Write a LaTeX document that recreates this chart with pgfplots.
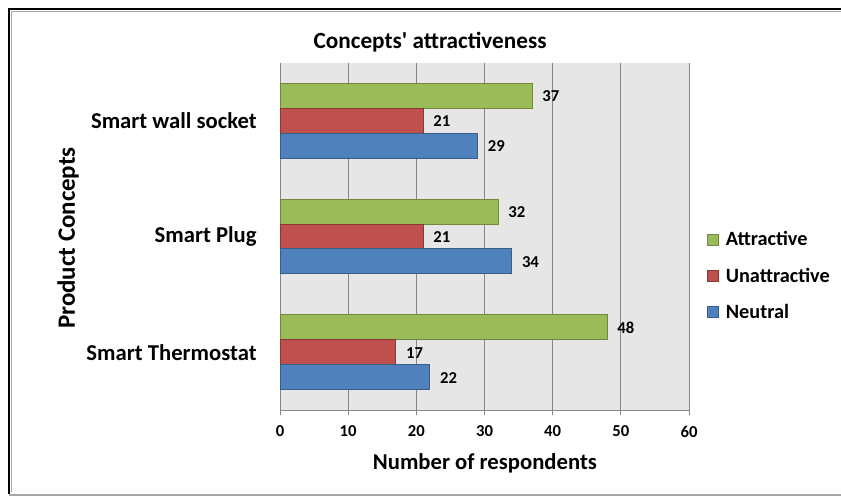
\documentclass[border=0pt]{standalone}
\usepackage{pgfplots}
\pgfplotsset{compat=1.18}
\usepackage{fontspec}
\setmainfont{Carlito}

\definecolor{attrfill}{HTML}{9BBB59}
\definecolor{attredge}{HTML}{71893F}
\definecolor{unatfill}{HTML}{C0504D}
\definecolor{unatedge}{HTML}{8C3836}
\definecolor{neutfill}{HTML}{4F81BD}
\definecolor{neutedge}{HTML}{385D8A}
\definecolor{plotbg}{HTML}{E6E6E6}
\definecolor{gridc}{HTML}{868686}

\begin{document}
\begin{tikzpicture}
% 1 px of the reference = 0.75pt
\begin{scope}[x=0.75pt,y=-0.75pt]
\useasboundingbox (0,0) rectangle (841,496);
% outer chart frame (right side is cut off in the original)
\draw[black, line width=1.5pt] (8.5,494) -- (8.5,8.5) -- (841,8.5);
\draw[gray!70, line width=0.75pt] (11,492) -- (11,11) -- (841,11);
\draw[gray!70, line width=1.2pt] (8.5,495) -- (841,495);
\end{scope}

\begin{axis}[
    at={(210pt,-307.5pt)}, anchor=south west,
    scale only axis,
    width=306.75pt, height=260.25pt,
    xbar,
    bar width=0.216,
    xmin=0, xmax=60,
    ymin=-0.5, ymax=2.5,
    xtick={0,10,...,60},
    ytick={0,1,2},
    yticklabels={Smart Thermostat, Smart Plug, Smart wall socket},
    extra y ticks={-0.5,0.5,1.5,2.5},
    extra y tick labels={},
    extra y tick style={major tick length=5.5pt, ytick style={gridc, line width=0.75pt}},
    axis lines*=left,
    axis line style={gridc, line width=0.75pt},
    tick align=outside,
    major tick length=4pt,
    ytick style={draw=none},
    xtick style={gridc, line width=0.75pt},
    xmajorgrids,
    grid style={gridc, line width=0.75pt},
    axis background/.style={fill=plotbg},
    /pgf/number format/assume math mode=true,
    xticklabel style={font=\bfseries\fontsize{12.5}{14}\selectfont, yshift=-4.5pt},
    yticklabel style={font=\bfseries\fontsize{17}{20}\selectfont, xshift=-10pt},
    title={Concepts\textquotesingle\ attractiveness},
    title style={font=\bfseries\fontsize{17.4}{20}\selectfont, at={(0.367,1.037)}, anchor=center},
    xlabel={Number of respondents},
    xlabel style={font=\bfseries\fontsize{17}{20}\selectfont, at={(0.501,-0.153)}, anchor=center},
    ylabel={Product Concepts},
    ylabel style={font=\bfseries\fontsize{18.7}{22}\selectfont, at={(-0.518,0.496)}, anchor=center},
    nodes near coords,
    nodes near coords style={font=\bfseries\fontsize{12.5}{14}\selectfont, anchor=west, xshift=4pt, yshift=-0.5pt},
    legend style={
        at={(1.047,0.386)}, anchor=west,
        draw=none, fill=none,
        font=\bfseries\fontsize{15.2}{17}\selectfont,
        row sep=11pt,
        legend cell align=left,
    },
    legend image code/.code={
        \path[draw=none, fill=none] (0pt,-4pt) rectangle (8pt,4pt);
        \draw[#1,overlay] (-3.75pt,-4pt) rectangle (4.25pt,4pt);
    },
]
\addplot[fill=attrfill, draw=attredge, line width=0.75pt, bar shift=0.216] coordinates {
    (48,0) (32,1) (37,2)
};
\addlegendentry{Attractive}
\addplot[fill=unatfill, draw=unatedge, line width=0.75pt, bar shift=0] coordinates {
    (17,0) (21,1) (21,2)
};
\addlegendentry{Unattractive}
\addplot[fill=neutfill, draw=neutedge, line width=0.75pt, bar shift=-0.216] coordinates {
    (22,0) (34,1) (29,2)
};
\addlegendentry{Neutral}
\end{axis}
\end{tikzpicture}
\end{document}
